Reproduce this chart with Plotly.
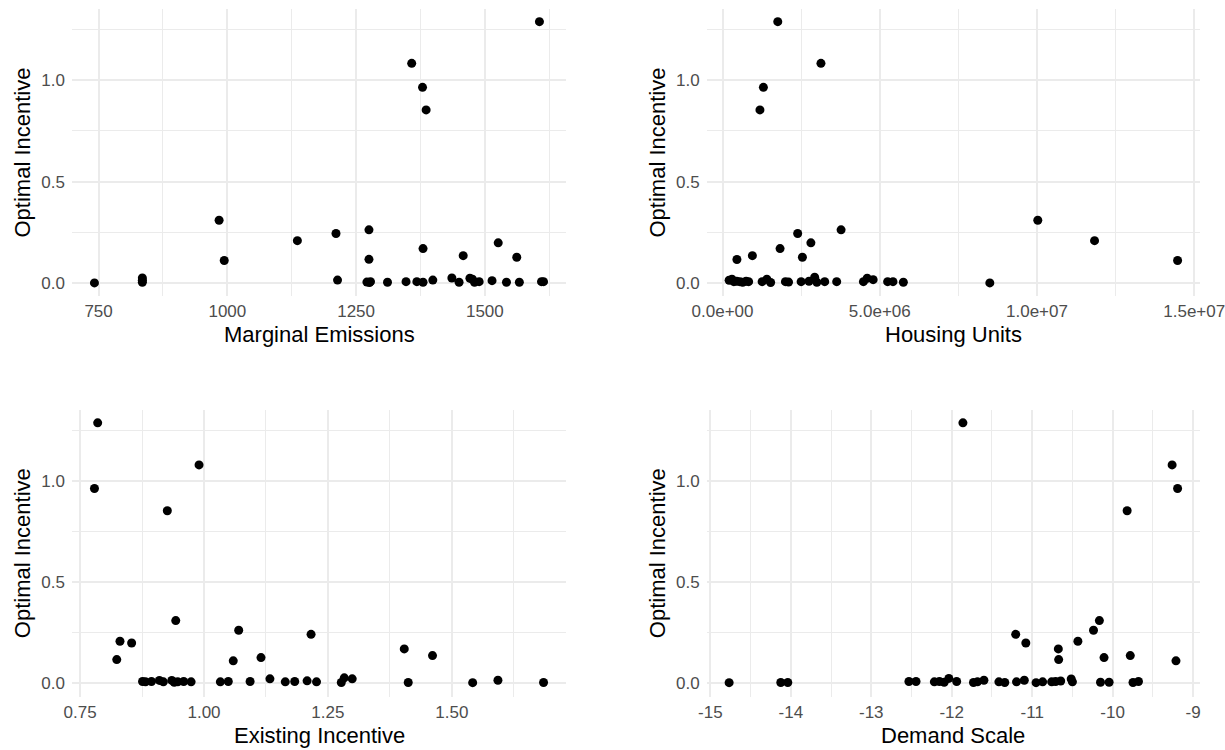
import plotly.graph_objects as go

# ---- data ----
optimal_label = "Optimal Incentive"

me_x = [742, 835, 835, 835, 984, 994, 1136, 1211, 1214, 1275, 1275, 1271, 1276, 1278, 1311,
        1347, 1358, 1368, 1379, 1380, 1380, 1386, 1399, 1436, 1450, 1458, 1471, 1476, 1480,
        1489, 1514, 1526, 1542, 1562, 1567, 1606, 1610, 1614]
me_y = [0.002, 0.026, 0.015, 0.005, 0.31, 0.112, 0.21, 0.245, 0.016, 0.263, 0.118, 0.006, 0.004,
        0.008, 0.005, 0.008, 1.082, 0.008, 0.964, 0.171, 0.005, 0.853, 0.016, 0.026, 0.005, 0.136,
        0.025, 0.02, 0.005, 0.008, 0.013, 0.199, 0.005, 0.128, 0.005, 1.287, 0.008, 0.008]

hu_x = [1.757e6, 3.13e6, 1.30e6, 1.19e6, 1.0025e7, 3.77e6, 2.39e6, 1.183e7, 2.81e6, 1.83e6,
        0.95e6, 2.54e6, 0.458e6, 1.447e7, 8.5e6,
        0.21e6, 0.3e6, 0.36e6, 0.45e6, 0.55e6, 0.64e6, 0.75e6, 0.83e6, 1.26e6, 1.41e6, 1.53e6,
        2.0e6, 2.1e6, 2.5e6, 2.75e6, 2.93e6, 3.0e6, 3.25e6, 3.63e6, 4.48e6, 4.6e6, 4.79e6,
        5.25e6, 5.42e6, 5.75e6]
hu_y = [1.287, 1.082, 0.964, 0.853, 0.31, 0.263, 0.245, 0.21, 0.199, 0.171, 0.136, 0.128, 0.117,
        0.112, 0.002,
        0.015, 0.02, 0.008, 0.01, 0.008, 0.005, 0.01, 0.008, 0.008, 0.02, 0.004, 0.008, 0.006,
        0.008, 0.01, 0.03, 0.005, 0.008, 0.008, 0.008, 0.025, 0.018, 0.008, 0.008, 0.005]

ei_x = [0.7855, 0.779, 0.990, 0.926, 0.943, 1.070, 1.216, 0.8305, 0.854, 0.824, 1.059, 1.115,
        1.404, 1.461,
        0.876, 0.882, 0.894, 0.910, 0.918, 0.935, 0.940, 0.947, 0.959, 0.974, 1.033, 1.049,
        1.093, 1.133, 1.164, 1.183, 1.208, 1.227, 1.277, 1.283, 1.299, 1.412, 1.542, 1.593, 1.685]
ei_y = [1.289, 0.964, 1.081, 0.854, 0.311, 0.263, 0.243, 0.209, 0.20, 0.118, 0.112, 0.128,
        0.171, 0.138,
        0.01, 0.008, 0.01, 0.015, 0.008, 0.015, 0.006, 0.008, 0.01, 0.008, 0.008, 0.01, 0.01,
        0.023, 0.008, 0.01, 0.013, 0.008, 0.005, 0.028, 0.023, 0.005, 0.004, 0.016, 0.005]

ds_x = [-11.861, -9.261, -9.193, -9.820, -10.165, -10.238, -11.205, -10.432, -11.079, -10.675,
        -9.781, -10.107, -10.671, -9.213,
        -14.767, -14.125, -14.038, -12.532, -12.444, -12.216, -12.153, -12.094, -12.036,
        -11.939, -11.73, -11.68, -11.60, -11.414, -11.341, -11.195, -11.098, -10.952, -10.870,
        -10.758, -10.709, -10.646, -10.515, -10.50, -10.151, -10.044, -9.747, -9.679]
ds_y = [1.289, 1.081, 0.964, 0.854, 0.311, 0.263, 0.243, 0.209, 0.20, 0.171, 0.138, 0.128,
        0.118, 0.112,
        0.004, 0.005, 0.005, 0.01, 0.01, 0.008, 0.01, 0.006, 0.025, 0.01, 0.005, 0.008, 0.016,
        0.008, 0.005, 0.008, 0.016, 0.004, 0.008, 0.008, 0.01, 0.012, 0.022, 0.008, 0.006,
        0.006, 0.005, 0.01]

panels = [
    dict(x=me_x, y=me_y, title="Marginal Emissions",
         ticks=[750, 1000, 1250, 1500], labels=["750", "1000", "1250", "1500"],
         minor=[875, 1125, 1375, 1625]),
    dict(x=hu_x, y=hu_y, title="Housing Units",
         ticks=[0, 5e6, 1e7, 1.5e7], labels=["0.0e+00", "5.0e+06", "1.0e+07", "1.5e+07"],
         minor=[2.5e6, 7.5e6, 1.25e7]),
    dict(x=ei_x, y=ei_y, title="Existing Incentive",
         ticks=[0.75, 1.0, 1.25, 1.5], labels=["0.75", "1.00", "1.25", "1.50"],
         minor=[0.875, 1.125, 1.375, 1.625]),
    dict(x=ds_x, y=ds_y, title="Demand Scale",
         ticks=[-15, -14, -13, -12, -11, -10, -9],
         labels=["-15", "-14", "-13", "-12", "-11", "-10", "-9"],
         minor=[-14.5, -13.5, -12.5, -11.5, -10.5, -9.5]),
]
y_ticks = [0, 0.5, 1.0]
y_labels = ["0.0", "0.5", "1.0"]
y_minor = [0.25, 0.75, 1.25]

# ---- layout geometry (pixels) ----
W, H = 1225, 750
x_doms_px = [(72, 566), (706.7, 1200), (72, 566), (706.7, 1200)]
y_doms_px = [(8.6, 296.4), (8.6, 296.4), (409.8, 696.5), (409.8, 696.5)]
xtitle_y_px = [334, 334, 735, 735]
ytitle_x_px = [22, 657, 22, 657]

FONT = "Liberation Sans, Arial, sans-serif"
GRID = "#EBEBEB"


def expand(v, f=0.05):
    lo, hi = min(v), max(v)
    d = (hi - lo) * f
    return [lo - d, hi + d]


fig = go.Figure()
annotations = []
for i, p in enumerate(panels):
    n = "" if i == 0 else str(i + 1)
    fig.add_trace(go.Scatter(
        x=p["x"], y=p["y"], mode="markers", xaxis="x" + n, yaxis="y" + n,
        marker=dict(color="black", size=9, line=dict(width=0)),
        showlegend=False, hoverinfo="x+y", cliponaxis=False))
    x0, x1 = x_doms_px[i]
    yt, yb = y_doms_px[i]
    common = dict(showline=False, zeroline=False, gridcolor=GRID, gridwidth=2,
                  ticks="", automargin=False, ticklabeloverflow="allow",
                  tickfont=dict(family=FONT, size=17, color="#4D4D4D"),
                  minor=dict(showgrid=True, gridcolor=GRID, gridwidth=1))
    xa = dict(common, domain=[x0 / W, x1 / W], range=expand(p["x"]),
              tickmode="array", tickvals=p["ticks"], ticktext=p["labels"],
              anchor="y" + n, ticklabelstandoff=3)
    xa["minor"] = dict(common["minor"], tickvals=p["minor"])
    ya = dict(common, domain=[1 - yb / H, 1 - yt / H], range=expand([0] + p["y"]),
              tickmode="array", tickvals=y_ticks, ticktext=y_labels,
              anchor="x" + n, ticklabelstandoff=6)
    ya["minor"] = dict(common["minor"], tickvals=y_minor)
    fig.layout["xaxis" + n] = xa
    fig.layout["yaxis" + n] = ya
    annotations.append(dict(text=p["title"], xref="paper", yref="paper",
                            x=(x0 + x1) / 2 / W, y=1 - xtitle_y_px[i] / H,
                            xanchor="center", yanchor="middle", showarrow=False,
                            font=dict(family=FONT, size=22, color="black")))
    annotations.append(dict(text=optimal_label, xref="paper", yref="paper",
                            x=ytitle_x_px[i] / W, y=1 - (yt + yb) / 2 / H,
                            xanchor="center", yanchor="middle", showarrow=False,
                            textangle=-90,
                            font=dict(family=FONT, size=22, color="black")))

fig.update_layout(width=W, height=H, margin=dict(l=0, r=0, t=0, b=0, autoexpand=False),
                  plot_bgcolor="white", paper_bgcolor="white",
                  annotations=annotations, showlegend=False)

fig.write_html("out.html", config={"displayModeBar": False},
               post_script="document.body.style.margin='0';document.body.style.overflow='hidden';")
